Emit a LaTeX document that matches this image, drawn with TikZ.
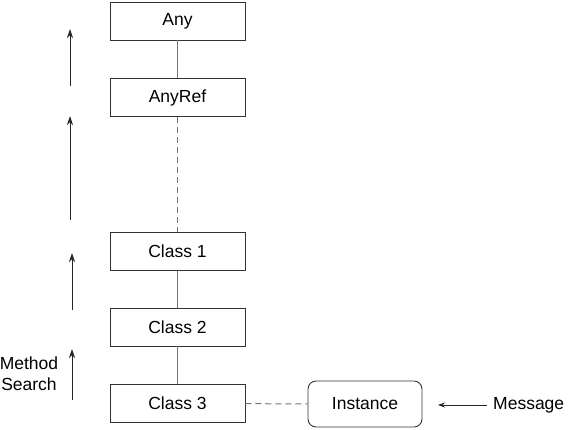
\documentclass[tikz,border=0pt]{standalone}
\usepackage{fontspec}
\setmainfont{Liberation Sans}
\usetikzlibrary{arrows.meta}
\begin{document}
\begin{tikzpicture}[x=1pt,y=-1pt,
  box/.style={draw=black!80,line width=0.9pt,minimum width=135pt,minimum height=38pt,inner sep=0pt,font=\fontsize{17.5}{20}\selectfont},
  inst/.style={box,minimum width=114pt,minimum height=46pt,rounded corners=8pt},
  link/.style={draw=black!55,line width=1pt},
  dlink/.style={link,dash pattern=on 6pt off 4pt},
  up/.style={draw=black!85,line width=0.9pt,-{Stealth[length=9pt,width=6pt]}},
  lbl/.style={font=\fontsize{17.5}{21}\selectfont,inner sep=0pt}]
\useasboundingbox (0,0) rectangle (569,429);
\node[box] (any) at (177.5,21) {Any};
\node[box] (anyref) at (177.5,97.5) {AnyRef};
\node[box] (c1) at (177.5,251.5) {Class 1};
\node[box] (c2) at (177.5,327) {Class 2};
\node[box] (c3) at (177.5,403.5) {Class 3};
\node[inst] (inst) at (365,404) {Instance};
\node[lbl,anchor=west] (msg) at (493,405) {Message};
\node[lbl,align=center] (ms) at (29,374) {Method\\Search};
\draw[link] (any) -- (anyref);
\draw[dlink] (anyref) -- (c1);
\draw[link] (c1) -- (c2);
\draw[link] (c2) -- (c3);
\draw[dlink] (c3) -- (inst);
\draw[up,line width=0.8pt,-{Stealth[length=7pt,width=5pt]}] (msg.west) ++(-6,0) coordinate (m0) -- (438,405) coordinate (m1);
\coordinate (a1s) at (70,86); \coordinate (a1e) at (70,29);
\coordinate (a2s) at (70,220); \coordinate (a2e) at (70,116);
\coordinate (a3s) at (72,310); \coordinate (a3e) at (72,253);
\coordinate (a4s) at (72,400); \coordinate (a4e) at (72,349);
\draw[up] (a1s) -- (a1e);
\draw[up] (a2s) -- (a2e);
\draw[up] (a3s) -- (a3e);
\draw[up] (a4s) -- (a4e);
\end{tikzpicture}
\end{document}
